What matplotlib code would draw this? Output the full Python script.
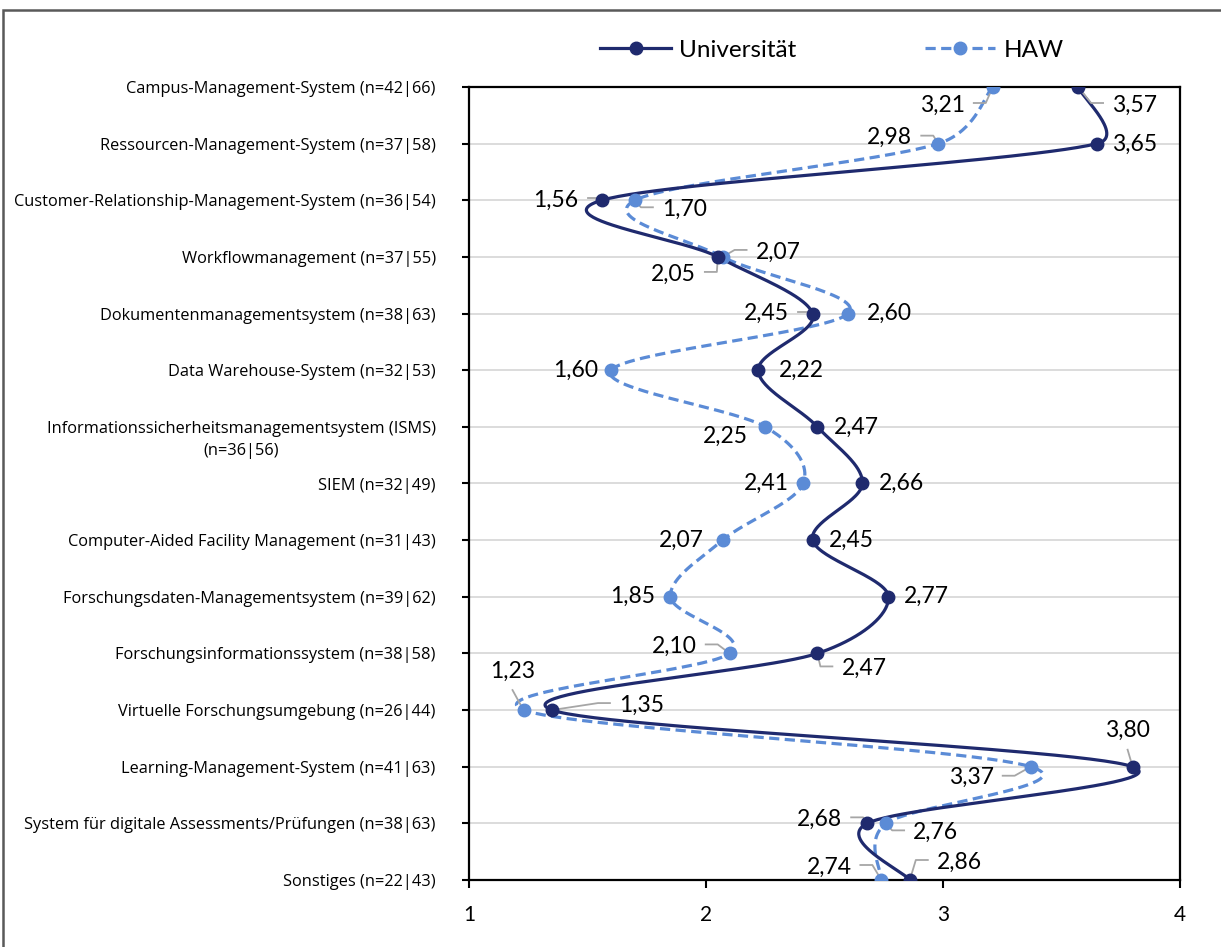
import matplotlib.pyplot as plt
import numpy as np
from matplotlib.lines import Line2D
from matplotlib.patches import Rectangle

plt.rcParams['font.family'] = ['Lato', 'DejaVu Sans']

kategorien = [
    "Campus-Management-System (n=42|66)",
    "Ressourcen-Management-System (n=37|58)",
    "Customer-Relationship-Management-System (n=36|54)",
    "Workflowmanagement (n=37|55)",
    "Dokumentenmanagementsystem (n=38|63)",
    "Data Warehouse-System (n=32|53)",
    "Informationssicherheitsmanagementsystem (ISMS)",
    "SIEM (n=32|49)",
    "Computer-Aided Facility Management (n=31|43)",
    "Forschungsdaten-Managementsystem (n=39|62)",
    "Forschungsinformationssystem (n=38|58)",
    "Virtuelle Forschungsumgebung (n=26|44)",
    "Learning-Management-System (n=41|63)",
    "System für digitale Assessments/Prüfungen (n=38|63)",
    "Sonstiges (n=22|43)",
]
isms_zeile2 = "(n=36|56)"
uni = [3.57, 3.65, 1.56, 2.05, 2.45, 2.22, 2.47, 2.66, 2.45, 2.77, 2.47, 1.35, 3.80, 2.68, 2.86]
haw = [3.21, 2.98, 1.70, 2.07, 2.60, 1.60, 2.25, 2.41, 2.07, 1.85, 2.10, 1.23, 3.37, 2.76, 2.74]

# Beschriftungs-Versatz in Pixeln (dx, dy nach unten), Ausrichtung, mit/ohne Führungslinie
uni_lab = [(34, 18, 'left', True), (15, 1, 'left', False), (-23, 0, 'right', True),
           (-22, 17, 'right', True), (-24, 0, 'right', True), (21, 0, 'left', False),
           (16, 0, 'left', False), (16, 0, 'left', False), (16, 0, 'left', False),
           (15, 0, 'left', False), (24, 15, 'left', True), (67, -5, 'left', True),
           (-5, -36, 'center', True), (-25, -4, 'right', True), (27, -18, 'left', True)]
haw_lab = [(-28, 18, 'right', True), (-26, -6, 'right', True), (27, 9, 'left', True),
           (33, -5, 'left', True), (19, 0, 'left', False), (-13, 0, 'right', False),
           (-17, 9, 'right', False), (-14, 0, 'right', False), (-19, 0, 'right', False),
           (-15, 0, 'right', False), (-33, -7, 'right', True), (-11, -39, 'center', True),
           (-37, 11, 'right', True), (27, 9, 'left', True), (-30, -13, 'right', True)]

c_uni = '#1F2A6E'
c_haw = '#5B8BD6'
grau = '#A6A6A6'
strich = (0, (3.2, 1.7))

# Pixel je x-Einheit / Pixel je Kategorie, damit die Glättung in Bildkoordinaten rechnet
XSKAL = 237.0 / 56.6


def glatt(xs, ys, n=60):
    # Bezier-Glättung: Tangente (P[i+1]-P[i-1])/6, höchstens halbe Segmentlänge
    p = np.column_stack([np.asarray(xs, float) * XSKAL, ys]).astype(float)
    q = np.vstack([p[0], p, p[-1]])
    out = []
    for i in range(len(p) - 1):
        a, b = p[i], p[i + 1]
        seg = np.hypot(*(b - a))
        v1 = (q[i + 2] - q[i]) / 6
        v2 = (q[i + 3] - q[i + 1]) / 6
        for v in (v1, v2):
            lv = np.hypot(*v)
            if lv > seg / 2:
                v *= seg / 2 / lv
        c1, c2 = a + v1, b - v2
        t = np.linspace(0, 1, n)[:, None]
        out.append((1 - t) ** 3 * a + 3 * (1 - t) ** 2 * t * c1 + 3 * (1 - t) * t ** 2 * c2 + t ** 3 * b)
    out = np.vstack(out)
    return out[:, 0] / XSKAL, out[:, 1]


fig = plt.figure(figsize=(12.21, 9.47), dpi=100)
ax = fig.add_axes([469 / 1221, 1 - 880 / 947, (1180 - 469) / 1221, (880 - 87) / 947])

y = np.arange(len(kategorien))
ax.set_xlim(1, 4)
ax.set_ylim(len(kategorien) - 1, 0)

for yy in y:
    ax.axhline(yy, color='#D9D9D9', lw=1.3, zorder=0)

gx, gy = glatt(haw, y)
ax.plot(gx, gy, color=c_haw, lw=2.3, ls=strich, zorder=2)
ax.plot(haw, y, 'o', color=c_haw, ms=9, zorder=6)
gx, gy = glatt(uni, y)
ax.plot(gx, gy, color=c_uni, lw=2.3, zorder=4)
ax.plot(uni, y, 'o', color=c_uni, ms=9, zorder=6)

ax.set_xticks([1, 2, 3, 4])
ax.set_yticks(y)
ax.set_yticklabels(kategorien, fontsize=11.75, family='Open Sans')
ax.tick_params(axis='y', length=5, width=1.5, pad=19)
ax.tick_params(axis='x', length=6, width=1.5, pad=12, labelsize=15)
for s in ax.spines.values():
    s.set_linewidth(1.6)
    s.set_color('black')

fig.canvas.draw()
to_px = ax.transData.transform
to_data = ax.transData.inverted().transform

# zweite Zeile der ISMS-Beschriftung, mittig unter der ersten
bb = ax.get_yticklabels()[6].get_window_extent()
fig.text((bb.x0 + bb.x1) / 2 / 1221, (bb.y0 + bb.y1) / 2 / 947 - 22 / 947, isms_zeile2,
         ha='center', va='center', fontsize=11.75, family='Open Sans')


def beschriften(werte, labs):
    for yy, (v, (dx, dy, ha, leit)) in enumerate(zip(werte, labs)):
        px, py = to_px((v, yy))
        tx, ty = px + dx, py - dy
        ax.text(*to_data((tx, ty)), f"{v:.2f}".replace('.', ','), ha=ha, va='center',
                fontsize=16.5, zorder=7)
        if not leit:
            continue
        if ha == 'center':
            k = -19 if dy < 0 else 19
            pts = [(tx, ty + k), (px, py)]
        else:
            sgn = 1 if ha == 'right' else -1
            e = tx + sgn * 9
            pts = [(e, ty + 2), (e + sgn * 12, ty + 2), (px, py)]
        # kurz vor dem Markermittelpunkt enden
        (x1, y1), (x2, y2) = pts[-2], pts[-1]
        dist = np.hypot(x2 - x1, y2 - y1)
        if dist > 4:
            pts[-1] = (x2 - (x2 - x1) * 3 / dist, y2 - (y2 - y1) * 3 / dist)
        else:
            pts = pts[:-1]
        dd = to_data(np.array(pts))
        ax.plot(dd[:, 0], dd[:, 1], color=grau, lw=1.3, zorder=5)


beschriften(uni, uni_lab)
beschriften(haw, haw_lab)

handles = [Line2D([], [], color=c_uni, lw=2.3, marker='o', ms=9),
           Line2D([], [], color=c_haw, lw=2.3, ls=strich, marker='o', ms=9)]
fig.legend(handles, ['Universität', 'HAW'], loc='center', bbox_to_anchor=(832 / 1221, 1 - 50 / 947),
           ncol=2, frameon=False, fontsize=17.5, handlelength=2.9, columnspacing=5.3, handletextpad=0.33)

# Rahmen um das Diagramm (rechts und unten über den Rand hinaus)
fig.add_artist(Rectangle((3 / 1221, -20 / 947), 1240 / 1221, 957 / 947, transform=fig.transFigure,
                         fill=False, edgecolor='#595959', lw=1.8))

fig.savefig('out.png', dpi=100)
